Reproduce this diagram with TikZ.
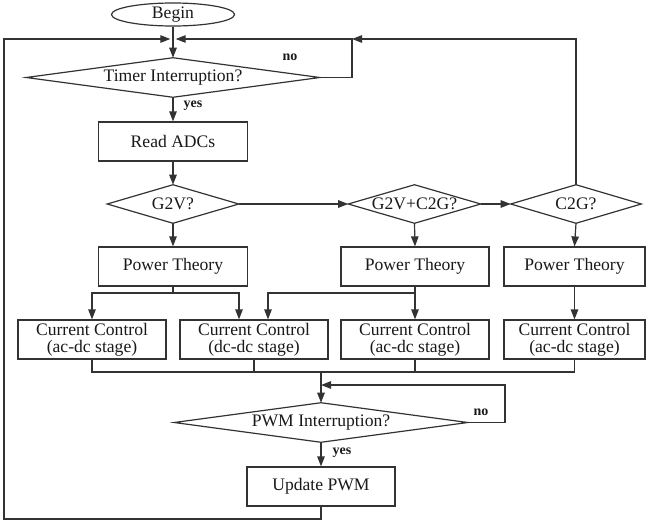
\documentclass[tikz,border=0pt]{standalone}
\usepackage{fontspec}
\setmainfont{Liberation Serif}
\usetikzlibrary{arrows.meta,shapes.geometric,calc}
\begin{document}
\begin{tikzpicture}[x=0.75pt,y=-0.75pt,
  line/.style={draw=black!80,line width=0.9pt},
  arr/.style={line,-{Triangle[length=7.5pt,width=5.6pt]}},
  txt/.style={font=\fontsize{13.2}{12.8}\selectfont,text=black!90,align=center},
  boxn/.style={txt,draw=black!80,line width=0.9pt,rectangle,inner sep=0pt,minimum height=29.25pt,minimum width=111pt},
  dia/.style={txt,rectangle,inner sep=0pt,minimum height=29.25pt},
  lbl/.style={font=\fontsize{10.5}{12}\selectfont\bfseries,text=black!90}]
\useasboundingbox (0,0) rectangle (646,525);
% nodes
\node[txt,draw=black!80,line width=0.9pt,ellipse,inner sep=0pt,minimum width=92.25pt,minimum height=17.25pt] (begin) at (173,14.5) {Begin};
\node[dia,minimum width=219.75pt] (timer) at (173,77.5) {Timer Interruption?};
\node[boxn,minimum width=111.75pt] (read) at (173,141.5) {Read ADCs};
\node[dia,minimum width=98.25pt,minimum height=28.5pt] (g2v) at (173,204) {G2V?};
\node[dia,minimum width=99pt,minimum height=28.5pt] (g2vc2g) at (414.5,204) {G2V+C2G?};
\node[dia,minimum width=97.5pt,minimum height=28.5pt] (c2g) at (576,204) {C2G?};
\node[boxn,minimum width=111.75pt] (pt1) at (173,266.5) {Power Theory};
\node[boxn] (pt2) at (415,266.5) {Power Theory};
\node[boxn,minimum width=105.75pt] (pt3) at (574.5,266.5) {Power Theory};
\node[boxn] (cc1) at (92,339.5) {Current Control\\(ac-dc stage)};
\node[boxn] (cc2) at (254,339.5) {Current Control\\(dc-dc stage)};
\node[boxn] (cc3) at (415,339.5) {Current Control\\(ac-dc stage)};
\node[boxn,minimum width=105.75pt] (cc4) at (574.5,339.5) {Current Control\\(ac-dc stage)};
\node[dia,minimum width=219.75pt] (pwm) at (321,422.5) {PWM Interruption?};
\node[boxn] (upd) at (321,486.5) {Update PWM};
% diamond outlines
\foreach \n in {timer,g2v,g2vc2g,c2g,pwm}
  \draw[line,line join=miter] (\n.west) -- (\n.north) -- (\n.east) -- (\n.south) -- cycle;
% labels
\node[lbl] (no1) at (290,57) {no};
\node[lbl] (yes1) at (193,106) {yes};
\node[lbl] (no2) at (481,412) {no};
\node[lbl] (yes2) at (342,453) {yes};
% coordinates
\coordinate (j1) at (173,39);
\coordinate (tl) at (4,39);
\coordinate (bl) at (4,519);
\coordinate (rc) at (352,39);
\coordinate (s1) at (173,293);
\coordinate (m) at (321,372);
\coordinate (m2) at (321,385);
\coordinate (pr) at (505,385);
% connectors
\draw[arr] (begin.south) -- (timer.north);
\draw[arr,shorten >=2pt] (upd.south) |- (bl) -- (tl) -- (j1);
\draw[arr,shorten >=2pt] (timer.east) -| (rc) -- (j1);
\draw[arr] (c2g.north) |- (rc);
\draw[arr] (timer.south) -- (read.north);
\draw[arr] (read.south) -- (g2v.north);
\draw[arr] (g2v.east) -- (g2vc2g.west);
\draw[arr] (g2vc2g.east) -- (c2g.west);
\draw[arr] (g2v.south) -- (pt1.north);
\draw[arr] (g2vc2g.south) -- (pt2.north);
\draw[arr] (c2g.south) -- (pt3.north);
\draw[line] (pt1.south) -- (s1);
\draw[arr] (s1) -| (cc1.north);
\draw[arr] (s1) -| ([xshift=-11.25pt]cc2.north);
\draw[arr] (pt2.south) -- (cc3.north);
\draw[arr] (pt2.south |- s1) -| ([xshift=10.5pt]cc2.north);
\draw[arr] (pt3.south) -- (cc4.north);
\draw[line] (cc1.south) -- (cc1.south |- m) -- (cc4.south |- m) -- (cc4.south);
\draw[line] (cc2.south) -- (cc2.south |- m);
\draw[line] (cc3.south) -- (cc3.south |- m);
\draw[arr] (m) -- (pwm.north);
\draw[arr] (pwm.east) -| (pr) -- (m2);
\draw[arr] (pwm.south) -- (upd.north);
\end{tikzpicture}
\end{document}
